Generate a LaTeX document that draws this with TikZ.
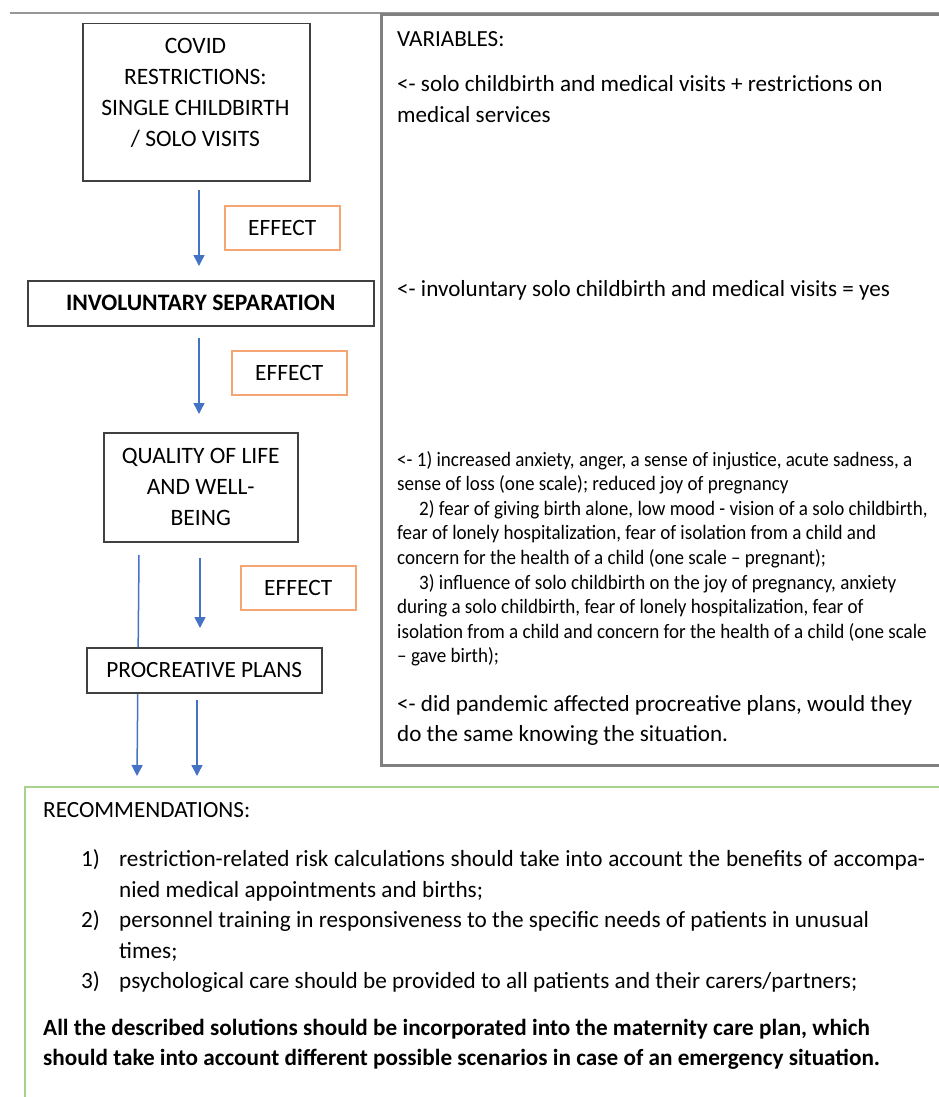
\documentclass[tikz,border=0pt]{standalone}
\usepackage{fontspec}
\setmainfont{Carlito}
\newfontfamily\condfont[FakeStretch=0.93]{Carlito}
\usetikzlibrary{arrows.meta}
\definecolor{arrblue}{RGB}{68,114,196}
\definecolor{effor}{RGB}{245,165,115}
\definecolor{boxgray}{RGB}{64,64,64}
\definecolor{vargray}{RGB}{128,128,128}
\definecolor{topgray}{RGB}{150,150,150}
\definecolor{recgreen}{RGB}{169,209,142}
\tikzset{
  mainbox/.style={draw=boxgray, line width=1.5pt, fill=white, inner sep=0pt, anchor=north west},
  effbox/.style={draw=effor, line width=1.5pt, fill=white, inner sep=0pt, anchor=north west,
    minimum width=115pt, minimum height=44pt, font=\fontsize{23.4}{27}\selectfont},
  boxtext/.style={inner sep=0pt, align=center, font=\fontsize{23.5}{31}\selectfont},
  flow/.style={draw=arrblue, line width=1.5pt, -{Triangle[length=11pt,width=11pt]}},
  vartext/.style={inner sep=0pt, anchor=base west, font=\fontsize{23.1}{31}\selectfont},
  rectext/.style={inner sep=0pt, anchor=base west, font=\fontsize{23.2}{31}\selectfont},
}
\begin{document}
\begin{tikzpicture}[x=1pt,y=-1pt]
\useasboundingbox (0,0) rectangle (939,1097);
% frames
\draw[topgray, line width=1.5pt] (10,13) -- (939,13);
\draw[vargray, line width=3pt] (960,15) -- (381,15) -- (381,765) -- (960,765);
\draw[recgreen, line width=2pt] (960,787) -- (25,787) -- (25,1120);

% coordinates for connector ends
\coordinate (a1s) at (199,190); \coordinate (a1e) at (199,266);
\coordinate (a2s) at (199,338); \coordinate (a2e) at (199,414);
\coordinate (a3s) at (200,558); \coordinate (a3e) at (200,628);
\coordinate (a4s) at (197,700); \coordinate (a4e) at (197,776);
\coordinate (a5s) at (139,555); \coordinate (a5e) at (137,776);

\draw[flow] (a5s) -- (a5e);

% flow boxes
\node[mainbox, minimum width=227pt, minimum height=157pt] (covid) at (82,23) {};
\node[boxtext] (covidtxt) at (195.5,93) {COVID\\RESTRICTIONS:\\SINGLE CHILDBIRTH\\/ SOLO VISITS};
\node[effbox] (eff1) at (224,205) {EFFECT};
\node[mainbox, minimum width=346pt, minimum height=45pt, font=\fontsize{23.6}{27}\selectfont\bfseries] (sep) at (27,280) {INVOLUNTARY SEPARATION};
\node[effbox] (eff2) at (231,350) {EFFECT};
\node[mainbox, minimum width=194pt, minimum height=109pt] (qual) at (103,432) {};
\node[boxtext] (qualtxt) at (qual.center) {QUALITY OF LIFE\\AND WELL-\\BEING};
\node[effbox] (eff3) at (240,565) {EFFECT};
\node[mainbox, minimum width=235pt, minimum height=45pt, font=\fontsize{23.3}{27}\selectfont] (proc) at (86,647) {PROCREATIVE PLANS};

\draw[flow] (a1s) -- (a1e);
\draw[flow] (a2s) -- (a2e);
\draw[flow] (a3s) -- (a3e);
\draw[flow] (a4s) -- (a4e);

% variables
\node[vartext] (vhead) at (397,47) {VARIABLES:};
\node[vartext] (v1) at (397,92) {<- solo childbirth and medical visits + restrictions on};
\node[vartext] (v1b) at (397,123) {medical services};
\node[vartext] (v2) at (397,296) {<- involuntary solo childbirth and medical visits = yes};
\node[inner sep=0pt, anchor=base west] (v3) at (397,466) {\parbox[t]{560pt}{\condfont\fontsize{20.5}{24.6}\selectfont
<- 1) increased anxiety, anger, a sense of injustice, acute sadness, a\\
sense of loss (one scale); reduced joy of pregnancy\\
\hspace*{22pt}2) fear of giving birth alone, low mood - vision of a solo childbirth,\\
fear of lonely hospitalization, fear of isolation from a child and\\
concern for the health of a child (one scale – pregnant);\\
\hspace*{22pt}3) influence of solo childbirth on the joy of pregnancy, anxiety\\
during a solo childbirth, fear of lonely hospitalization, fear of\\
isolation from a child and concern for the health of a child (one scale\\
– gave birth);}};
\node[vartext] (v4) at (397,711) {<- did pandemic affected procreative plans, would they};
\node[vartext] (v4b) at (397,741) {do the same knowing the situation.};

% recommendations
\node[rectext] (rhead) at (43,817) {RECOMMENDATIONS:};
\node[rectext] (r1n) at (81,866) {1)};
\node[rectext] (r1) at (119,866) {\makebox[806pt][s]{restriction-related risk calculations should take into account the benefits of  accompa-}};
\node[rectext] (r1b) at (119,897) {nied medical appointments and births;};
\node[rectext] (r2n) at (81,927) {2)};
\node[rectext] (r2) at (119,927) {personnel training in responsiveness to the specific needs of patients in unusual};
\node[rectext] (r2b) at (119,958) {times;};
\node[rectext] (r3n) at (81,988) {3)};
\node[rectext] (r3) at (119,988) {psychological care should be provided to all patients and their carers/partners;};
\node[rectext, font=\fontsize{23.2}{31}\selectfont\bfseries] (rb1) at (43,1035) {All the described solutions should be incorporated into the maternity care plan, which};
\node[rectext, font=\fontsize{23.2}{31}\selectfont\bfseries] (rb2) at (43,1065) {should take into account different possible scenarios in case of an emergency situation.};
\end{tikzpicture}
\end{document}
